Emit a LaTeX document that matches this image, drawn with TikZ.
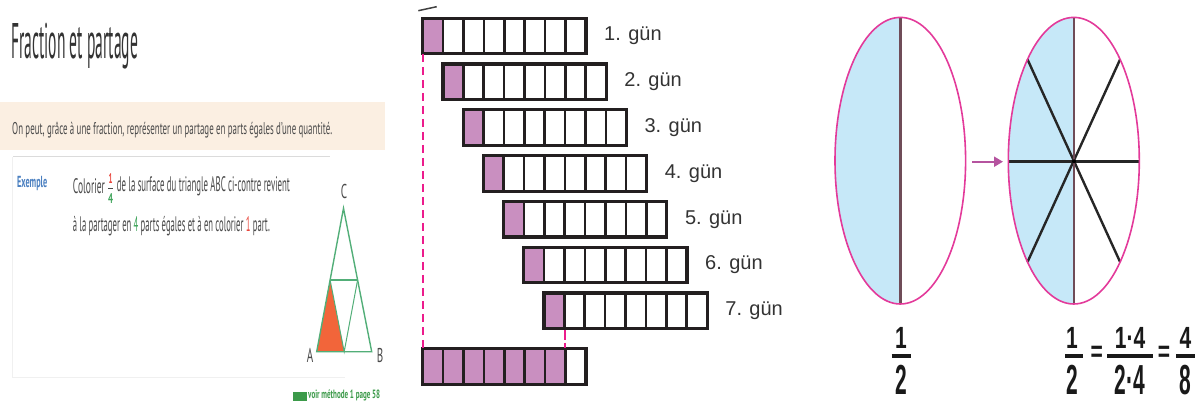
\documentclass[tikz,border=0pt]{standalone}
\usepackage{fontspec}
\setmainfont{Liberation Sans}
\newfontfamily\myriad{PT Sans}
\usetikzlibrary{arrows.meta}
\definecolor{barpurple}{HTML}{C98FC0}
\definecolor{barink}{HTML}{231F20}
\definecolor{dashpink}{HTML}{EC1C8C}
\definecolor{ellpink}{HTML}{E33A9A}
\definecolor{halfblue}{HTML}{C6E8F8}
\definecolor{arrowpurple}{HTML}{B5539F}
\definecolor{band}{HTML}{FBEFE2}
\definecolor{txtgray}{HTML}{4A4A4A}
\definecolor{titlegray}{HTML}{333333}
\definecolor{exblue}{HTML}{4A7FC0}
\definecolor{trigreen}{HTML}{52AE78}
\definecolor{triorange}{HTML}{F2653A}
\definecolor{fracred}{HTML}{E8463C}
\definecolor{fracgreen}{HTML}{3FA45B}
\definecolor{linkgreen}{HTML}{3C9A4A}
\newcommand\fitw[2]{\resizebox{#1}{\height}{#2}}
\tikzset{
  lt/.style={inner sep=0pt, anchor=west, text=txtgray, font=\myriad\fontsize{21}{21}\selectfont},
  barline/.style={draw=barink, line width=3.2pt},
  cellline/.style={draw=barink, line width=2.6pt},
  gun/.style={inner sep=0pt, anchor=west, text=titlegray, font=\fontsize{20}{20}\selectfont},
  pinkdash/.style={draw=dashpink, line width=2.2pt, dash pattern=on 8pt off 5pt},
  ellout/.style={draw=ellpink, line width=1.6pt},
  fr/.style={inner sep=0pt, text=black!90, font=\bfseries\fontsize{42}{42}\selectfont},
  frbar/.style={draw=black!90, line width=4pt},
  spoke/.style={draw=black!85, line width=2.4pt},
  midline/.style={draw=black!55!purple!40!gray, line width=2.4pt},
}
\begin{document}
\begin{tikzpicture}[x=1pt,y=-1pt]
\useasboundingbox (0,0) rectangle (1202,403);
% ---------------- left panel ----------------
\node[inner sep=0pt, anchor=west, text=titlegray, font=\myriad\fontsize{50}{50}\selectfont] (title) at (11,46) {\fitw{127pt}{Fraction et partage}};
\fill[band] (0,102) rectangle (385,150);
\node[lt] (bandtxt) at (12,130) {\fitw{320pt}{\fontsize{17}{17}\selectfont On peut, grâce à une fraction, représenter un partage en parts égales d’une quantité.}};
\draw[draw=black!14, line width=1pt] (13,157) -- (330,157);
\draw[draw=black!6, line width=1pt] (12,157) -- (12,377) -- (345,377);
\node[lt, text=exblue, font=\myriad\bfseries\fontsize{16}{16}\selectfont] (ex) at (17,184) {\fitw{30pt}{Exemple}};
\node[lt] (l1a) at (72.7,186) {\fitw{32pt}{Colorier}};
\node[inner sep=0pt, text=fracred, font=\myriad\bfseries\fontsize{14}{14}\selectfont] (fn) at (110.5,179) {\fitw{4pt}{1}};
\node[inner sep=0pt, text=fracgreen, font=\myriad\bfseries\fontsize{14}{14}\selectfont] (fd) at (110.5,198.5) {\fitw{5pt}{4}};
\draw[draw=txtgray, line width=0.9pt] (108.3,188.5) -- (112.7,188.5);
\node[lt] (l1b) at (116.7,186) {\fitw{173pt}{de la surface du triangle ABC ci-contre revient}};
\node[lt] (l2) at (72.7,226) {\fitw{197pt}{à la partager en {\color{fracgreen}4} parts égales et à en colorier {\color{fracred}1} part.}};
% triangle
\coordinate (A) at (316.7,351.7);
\coordinate (B) at (371.7,351.7);
\coordinate (C) at (343.5,208.3);
\coordinate (mAC) at (330.1,280);
\coordinate (mBC) at (357.6,280);
\coordinate (mAB) at (344.2,351.7);
\fill[triorange] (A) -- (mAC) -- (mAB) -- cycle;
\draw[draw=trigreen, line width=1.4pt] (A) -- (B) -- (C) -- cycle;
\draw[draw=trigreen, line width=1.4pt] (mAC) -- (mBC);
\draw[draw=trigreen, line width=1pt] (mAC) -- (mAB) -- (mBC);
\node[inner sep=0pt, text=txtgray, font=\myriad\fontsize{20}{20}\selectfont] (lC) at (344,192) {\scalebox{0.55}[1]{C}};
\node[inner sep=0pt, text=txtgray, font=\myriad\fontsize{20}{20}\selectfont] (lA) at (310,355) {\scalebox{0.55}[1]{A}};
\node[inner sep=0pt, text=txtgray, font=\myriad\fontsize{20}{20}\selectfont] (lB) at (380,355) {\scalebox{0.55}[1]{B}};
\fill[linkgreen] (293.3,391.5) rectangle (306.7,400.5);
\node[lt, text=linkgreen, font=\myriad\bfseries\fontsize{12}{12}\selectfont] (link) at (308,395.5) {\fitw{72pt}{voir méthode 1 page 58}};
% ---------------- middle panel ----------------
\draw[draw=black!75, line width=1.5pt] (418.3,10.7) -- (436.7,6.7);
\foreach \i in {0,...,6}{
  \pgfmathsetmacro\xo{422.7+20.2*\i}
  \pgfmathsetmacro\yo{18.3+45.8*\i}
  \pgfmathtruncatemacro\d{\i+1}
  \fill[barpurple] (\xo,\yo) rectangle ++(20.4,35.5);
  \foreach \k in {1,...,7}{\draw[cellline] (\xo+20.4*\k,\yo) -- ++(0,35.5);}
  \draw[barline] (\xo,\yo) rectangle ++(163.3,35.5);
  \node[gun] (g\d) at (\xo+181.3,\yo+17.75) {\d. gün};
}
\fill[barpurple] (422.7,348.3) rectangle ++(142.8,36.5);
\foreach \k in {1,...,7}{\draw[cellline] (422.7+20.4*\k,348.3) -- ++(0,36.5);}
\draw[barline] (422.7,348.3) rectangle ++(163.3,36.5);
\coordinate (d1top) at (423.3,53.8);
\coordinate (d1bot) at (423.3,348.3);
\coordinate (d2top) at (565.1,329.5);
\coordinate (d2bot) at (565.1,348.3);
\draw[pinkdash] (d1top) -- (d1bot);
\draw[pinkdash, dash pattern=on 10pt off 3pt] (d2top) -- (d2bot);
% ---------------- right panel ----------------
\coordinate (E1) at (900.3,160.7);
\coordinate (E2) at (1073.8,160.7);
\begin{scope}
  \clip (830,0) rectangle (900.5,403);
  \fill[halfblue] (E1) ellipse [x radius=65.3pt, y radius=143.3pt];
\end{scope}
\begin{scope}
  \clip (1000,0) rectangle (1074,403);
  \fill[halfblue] (E2) ellipse [x radius=65.5pt, y radius=143.3pt];
\end{scope}
\draw[midline] (900.6,17.4) -- (900.6,304);
\draw[spoke] (1008.3,161.5) -- (1139.3,161.5);
\draw[spoke] (1027.5,59.4) -- (1120.1,262);
\draw[spoke] (1120.1,59.4) -- (1027.5,262);
\draw[midline] (1074,17.4) -- (1074,304);
\fill[black] (1074,161.3) circle (2pt);
\draw[ellout] (E1) ellipse [x radius=65.3pt, y radius=143.3pt];
\draw[ellout] (E2) ellipse [x radius=65.5pt, y radius=143.3pt];
\coordinate (arS) at (972.3,161.7);
\coordinate (arE) at (1003,161.7);
\draw[draw=arrowpurple, line width=2.2pt, -{Triangle[length=9pt,width=10pt]}] (arS) -- (arE);
% fractions
\node[fr] (n1) at (901,337.5) {\scalebox{0.5}[0.73]{1}};
\node[fr] (dd1) at (901,380) {\scalebox{0.5}[1]{2}};
\draw[frbar] (891.7,356) -- (911,356);
\node[fr] (n2) at (1072,337.5) {\scalebox{0.5}[0.73]{1}};
\node[fr] (dd2) at (1072,380) {\scalebox{0.5}[1]{2}};
\draw[frbar] (1065,356) -- (1083.3,356);
\node[fr] (eq1) at (1096.7,354) {\scalebox{0.5}[0.7]{=}};
\node[fr] (n3) at (1130,337.5) {\scalebox{0.5}[0.73]{1·4}};
\node[fr] (dd3) at (1130,380) {\scalebox{0.5}[1]{2·4}};
\draw[frbar] (1107.3,356) -- (1152.7,356);
\node[fr] (eq2) at (1164,354) {\scalebox{0.5}[0.7]{=}};
\node[fr] (n4) at (1185.5,337.5) {\scalebox{0.5}[0.73]{4}};
\node[fr] (dd4) at (1185.5,380) {\scalebox{0.5}[1]{8}};
\draw[frbar] (1176,356) -- (1195,356);
\end{tikzpicture}
\end{document}
